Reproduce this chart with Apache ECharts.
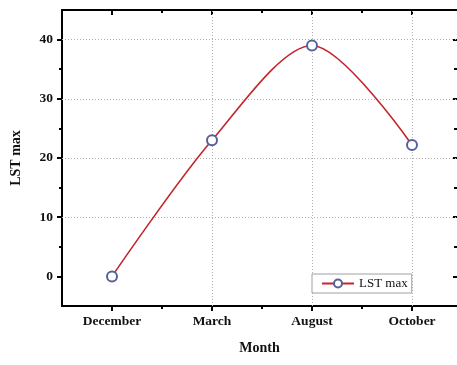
<!DOCTYPE html>
<html>
<head>
<meta charset="utf-8">
<script src="https://cdn.jsdelivr.net/npm/echarts@6/dist/echarts.min.js"></script>
<style>
  html, body { margin: 0; padding: 0; background: #fff; }
  #chart { width: 457px; height: 365px; }
</style>
</head>
<body>
<div id="chart"></div>
<script>
// Monthly maximum land surface temperature
var months = ['December', 'March', 'August', 'October'];
var lstMax = [0, 23, 39, 22.2];
var yMajorTicks = [0, 10, 20, 30, 40];
var yMinorTicks = [5, 15, 25, 35];
var xMinorTicks = [1.5, 2.5, 3.5];

var xPos = months.map(function (m, i) { return i + 1; });
var seriesData = xPos.map(function (x, i) { return [x, lstMax[i]]; });

var serif = 'Liberation Serif';
var axisColor = '#000';
var gridColor = '#b0b0b0';

function baseX(extra) {
  var o = {
    type: 'value', min: 0.5, max: 4.45, gridIndex: 0,
    splitLine: { show: false },
    axisLine: { show: true, onZero: false, lineStyle: { color: axisColor, width: 2 } },
    axisLabel: { show: false },
    axisTick: { show: false }
  };
  return Object.assign(o, extra);
}
function baseY(extra) {
  var o = {
    type: 'value', min: -5, max: 45, gridIndex: 0,
    splitLine: { show: false },
    axisLine: { show: true, onZero: false, lineStyle: { color: axisColor, width: 2 } },
    axisLabel: { show: false },
    axisTick: { show: false }
  };
  return Object.assign(o, extra);
}
var hiddenLine = { show: false, onZero: false };

var hLines = yMajorTicks.filter(function (v) { return v > 0; }).map(function (v) {
  return [{ coord: [0.5, v] }, { coord: [4.45, v] }];
});
var vLines = xPos.slice(1).map(function (x) {
  return [{ coord: [x, -5] }, { coord: [x, 45] }];
});

var chart = echarts.init(document.getElementById('chart'), null, { renderer: 'canvas' });
chart.setOption({
  animation: false,
  backgroundColor: '#fff',
  grid: { left: 62, top: 10, right: -1, bottom: 59, containLabel: false },
  legend: {
    left: 312, top: 274,
    padding: [3, 4, 3, 9],
    itemWidth: 32, itemHeight: 10,
    borderColor: '#a0a0a0', borderWidth: 1,
    backgroundColor: '#fff',
    textStyle: { fontFamily: serif, fontSize: 13, color: '#111' },
    data: ['LST max']
  },
  xAxis: [
    baseX({
      position: 'bottom',
      name: 'Month', nameLocation: 'middle', nameGap: 35,
      nameTextStyle: { fontFamily: serif, fontWeight: 'bold', fontSize: 14, color: '#111' },
      axisTick: { show: true, length: 5, customValues: xPos, lineStyle: { color: axisColor, width: 2 } },
      axisLabel: {
        show: true, margin: 9, customValues: xPos,
        fontFamily: serif, fontWeight: 'bold', fontSize: 13.5, color: '#111',
        formatter: function (v) { return months[Math.round(v) - 1] || ''; }
      }
    }),
    baseX({
      position: 'bottom',
      axisLine: hiddenLine,
      axisTick: { show: true, length: 3, customValues: xMinorTicks, lineStyle: { color: axisColor, width: 2 } }
    }),
    baseX({
      position: 'top',
      axisTick: { show: true, inside: true, length: 5, customValues: xPos, lineStyle: { color: axisColor, width: 2 } }
    }),
    baseX({
      position: 'top',
      axisLine: hiddenLine,
      axisTick: { show: true, inside: true, length: 3, customValues: xMinorTicks, lineStyle: { color: axisColor, width: 2 } }
    })
  ],
  yAxis: [
    baseY({
      position: 'left',
      name: 'LST max', nameLocation: 'middle', nameGap: 39, nameRotate: 90,
      nameTextStyle: { fontFamily: serif, fontWeight: 'bold', fontSize: 14, color: '#111' },
      axisTick: { show: true, length: 5, customValues: yMajorTicks, lineStyle: { color: axisColor, width: 2 } },
      axisLabel: {
        show: true, margin: 9, customValues: yMajorTicks,
        fontFamily: serif, fontWeight: 'bold', fontSize: 13.5, color: '#111'
      }
    }),
    baseY({
      position: 'left',
      axisLine: hiddenLine,
      axisTick: { show: true, length: 3, customValues: yMinorTicks, lineStyle: { color: axisColor, width: 2 } }
    }),
    baseY({
      position: 'right',
      axisLine: hiddenLine,
      axisTick: { show: true, inside: true, length: 4, customValues: yMajorTicks, lineStyle: { color: axisColor, width: 2 } }
    }),
    baseY({
      position: 'right',
      axisLine: hiddenLine,
      axisTick: { show: true, inside: true, length: 3, customValues: yMinorTicks, lineStyle: { color: axisColor, width: 2 } }
    })
  ],
  series: [{
    name: 'LST max',
    type: 'line',
    xAxisIndex: 0, yAxisIndex: 0,
    data: seriesData,
    smooth: 0.3,
    symbol: 'emptyCircle',
    symbolSize: 10,
    showAllSymbol: true,
    lineStyle: { color: '#c3262c', width: 1.6 },
    itemStyle: { color: '#55619a', borderColor: '#55619a', borderWidth: 1 },
    z: 5,
    markLine: {
      silent: true,
      symbol: ['none', 'none'],
      label: { show: false },
      lineStyle: { color: gridColor, type: [1, 2], width: 1 },
      data: hLines.concat(vLines),
      z: 1
    }
  }]
});
</script>
</body>
</html>
